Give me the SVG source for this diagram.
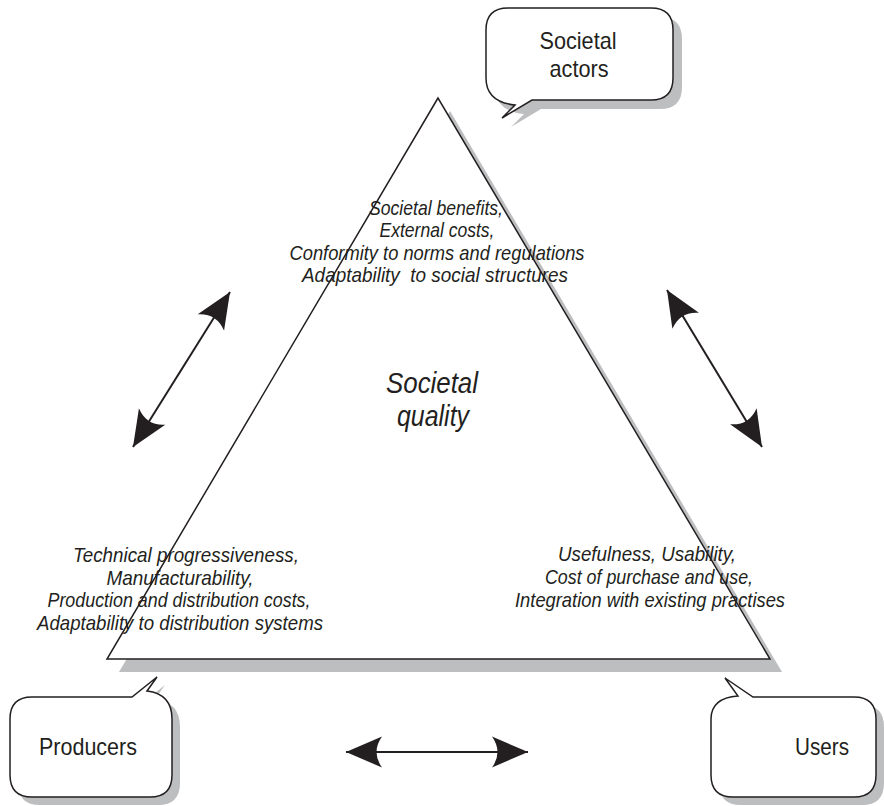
<svg xmlns="http://www.w3.org/2000/svg" width="884" height="806" viewBox="0 0 884 806">
<style>
.shadow{fill:#bcbec0;stroke:none}
.outline{fill:#fff;stroke:#231f20;stroke-width:1.5;stroke-linejoin:miter}
.lbl{font-family:"Liberation Sans Narrow","Liberation Sans",Arial,sans-serif;font-size:24px;fill:#231f20;text-anchor:middle}
.it{font-family:"Liberation Sans Narrow","Liberation Sans",Arial,sans-serif;font-size:21px;font-style:italic;fill:#231f20;text-anchor:middle}
.big{font-family:"Liberation Sans Narrow","Liberation Sans",Arial,sans-serif;font-size:30px;font-style:italic;fill:#231f20;text-anchor:middle}
.arrow{stroke:#231f20;stroke-width:2;fill:none;marker-start:url(#head);marker-end:url(#head)}
</style>
<defs>
<marker id="head" markerUnits="userSpaceOnUse" viewBox="0 0 37 33" markerWidth="37" markerHeight="33" refX="36" refY="16.5" orient="auto-start-reverse">
<path d="M36,16.5 L0,1 Q11,16.5 0,32 Z" fill="#231f20"/>
</marker>
</defs>
<rect width="884" height="806" fill="#fff"/>
<g id="triangle">
<polygon class="shadow" points="450,111 119,672 782,672"/>
<polygon class="outline" points="438,98 107,659 770,659"/>
</g>
<g id="societal-quality-text">
<text class="it" x="436" y="215" textLength="134" lengthAdjust="spacingAndGlyphs">Societal benefits,</text>
<text class="it" x="437" y="237" textLength="115" lengthAdjust="spacingAndGlyphs">External costs,</text>
<text class="it" x="437" y="260" textLength="295" lengthAdjust="spacingAndGlyphs">Conformity to norms and regulations</text>
<text class="it" x="435" y="282" textLength="266" lengthAdjust="spacingAndGlyphs" xml:space="preserve">Adaptability  to social structures</text>
<text class="big" x="432" y="393" textLength="92" lengthAdjust="spacingAndGlyphs">Societal</text>
<text class="big" x="433" y="426" textLength="72" lengthAdjust="spacingAndGlyphs">quality</text>
<text class="it" x="186" y="562" textLength="226" lengthAdjust="spacingAndGlyphs">Technical progressiveness,</text>
<text class="it" x="180" y="585" textLength="147" lengthAdjust="spacingAndGlyphs">Manufacturability,</text>
<text class="it" x="179" y="607" textLength="263" lengthAdjust="spacingAndGlyphs">Production and distribution costs,</text>
<text class="it" x="180" y="630" textLength="286" lengthAdjust="spacingAndGlyphs">Adaptability to distribution systems</text>
<text class="it" x="647" y="561" textLength="178" lengthAdjust="spacingAndGlyphs">Usefulness, Usability,</text>
<text class="it" x="649" y="584" textLength="208" lengthAdjust="spacingAndGlyphs">Cost of purchase and use,</text>
<text class="it" x="650" y="607" textLength="270" lengthAdjust="spacingAndGlyphs">Integration with existing practises</text>
</g>
<g id="societal-actors">
<path class="shadow" transform="translate(9,9)" d="M508,8 H651 Q673,8 673,30 V78 Q673,100 651,100 H532 L502,118 L515,105 Q486,102 486,78 V30 Q486,8 508,8 Z"/>
<path class="outline" d="M508,8 H651 Q673,8 673,30 V78 Q673,100 651,100 H532 L502,118 L515,105 Q486,102 486,78 V30 Q486,8 508,8 Z"/>
<text class="lbl" x="578" y="49" textLength="77" lengthAdjust="spacingAndGlyphs">Societal</text>
<text class="lbl" x="579" y="77" textLength="59" lengthAdjust="spacingAndGlyphs">actors</text>
</g>
<g id="producers">
<path class="shadow" transform="translate(8,8)" d="M32,697 H132 L157,677 L147,691 Q172,694 172,719 V775 Q172,797 150,797 H32 Q10,797 10,775 V719 Q10,697 32,697 Z"/>
<path class="outline" d="M32,697 H132 L157,677 L147,691 Q172,694 172,719 V775 Q172,797 150,797 H32 Q10,797 10,775 V719 Q10,697 32,697 Z"/>
<text class="lbl" x="88" y="755" textLength="98" lengthAdjust="spacingAndGlyphs">Producers</text>
</g>
<g id="users">
<path class="shadow" transform="translate(8,8)" d="M753,697 H854 Q876,697 876,719 V775 Q876,797 854,797 H733 Q711,797 711,775 V719 Q711,698 738,696 L725,678 Z"/>
<path class="outline" d="M753,697 H854 Q876,697 876,719 V775 Q876,797 854,797 H733 Q711,797 711,775 V719 Q711,698 738,696 L725,678 Z"/>
<text class="lbl" x="822" y="755" textLength="54" lengthAdjust="spacingAndGlyphs">Users</text>
</g>
<g id="connectors">
<line class="arrow" x1="230" y1="292" x2="133" y2="447"/>
<line class="arrow" x1="667" y1="290" x2="762" y2="447"/>
<line class="arrow" x1="346" y1="752" x2="528" y2="752"/>
</g>
</svg>
